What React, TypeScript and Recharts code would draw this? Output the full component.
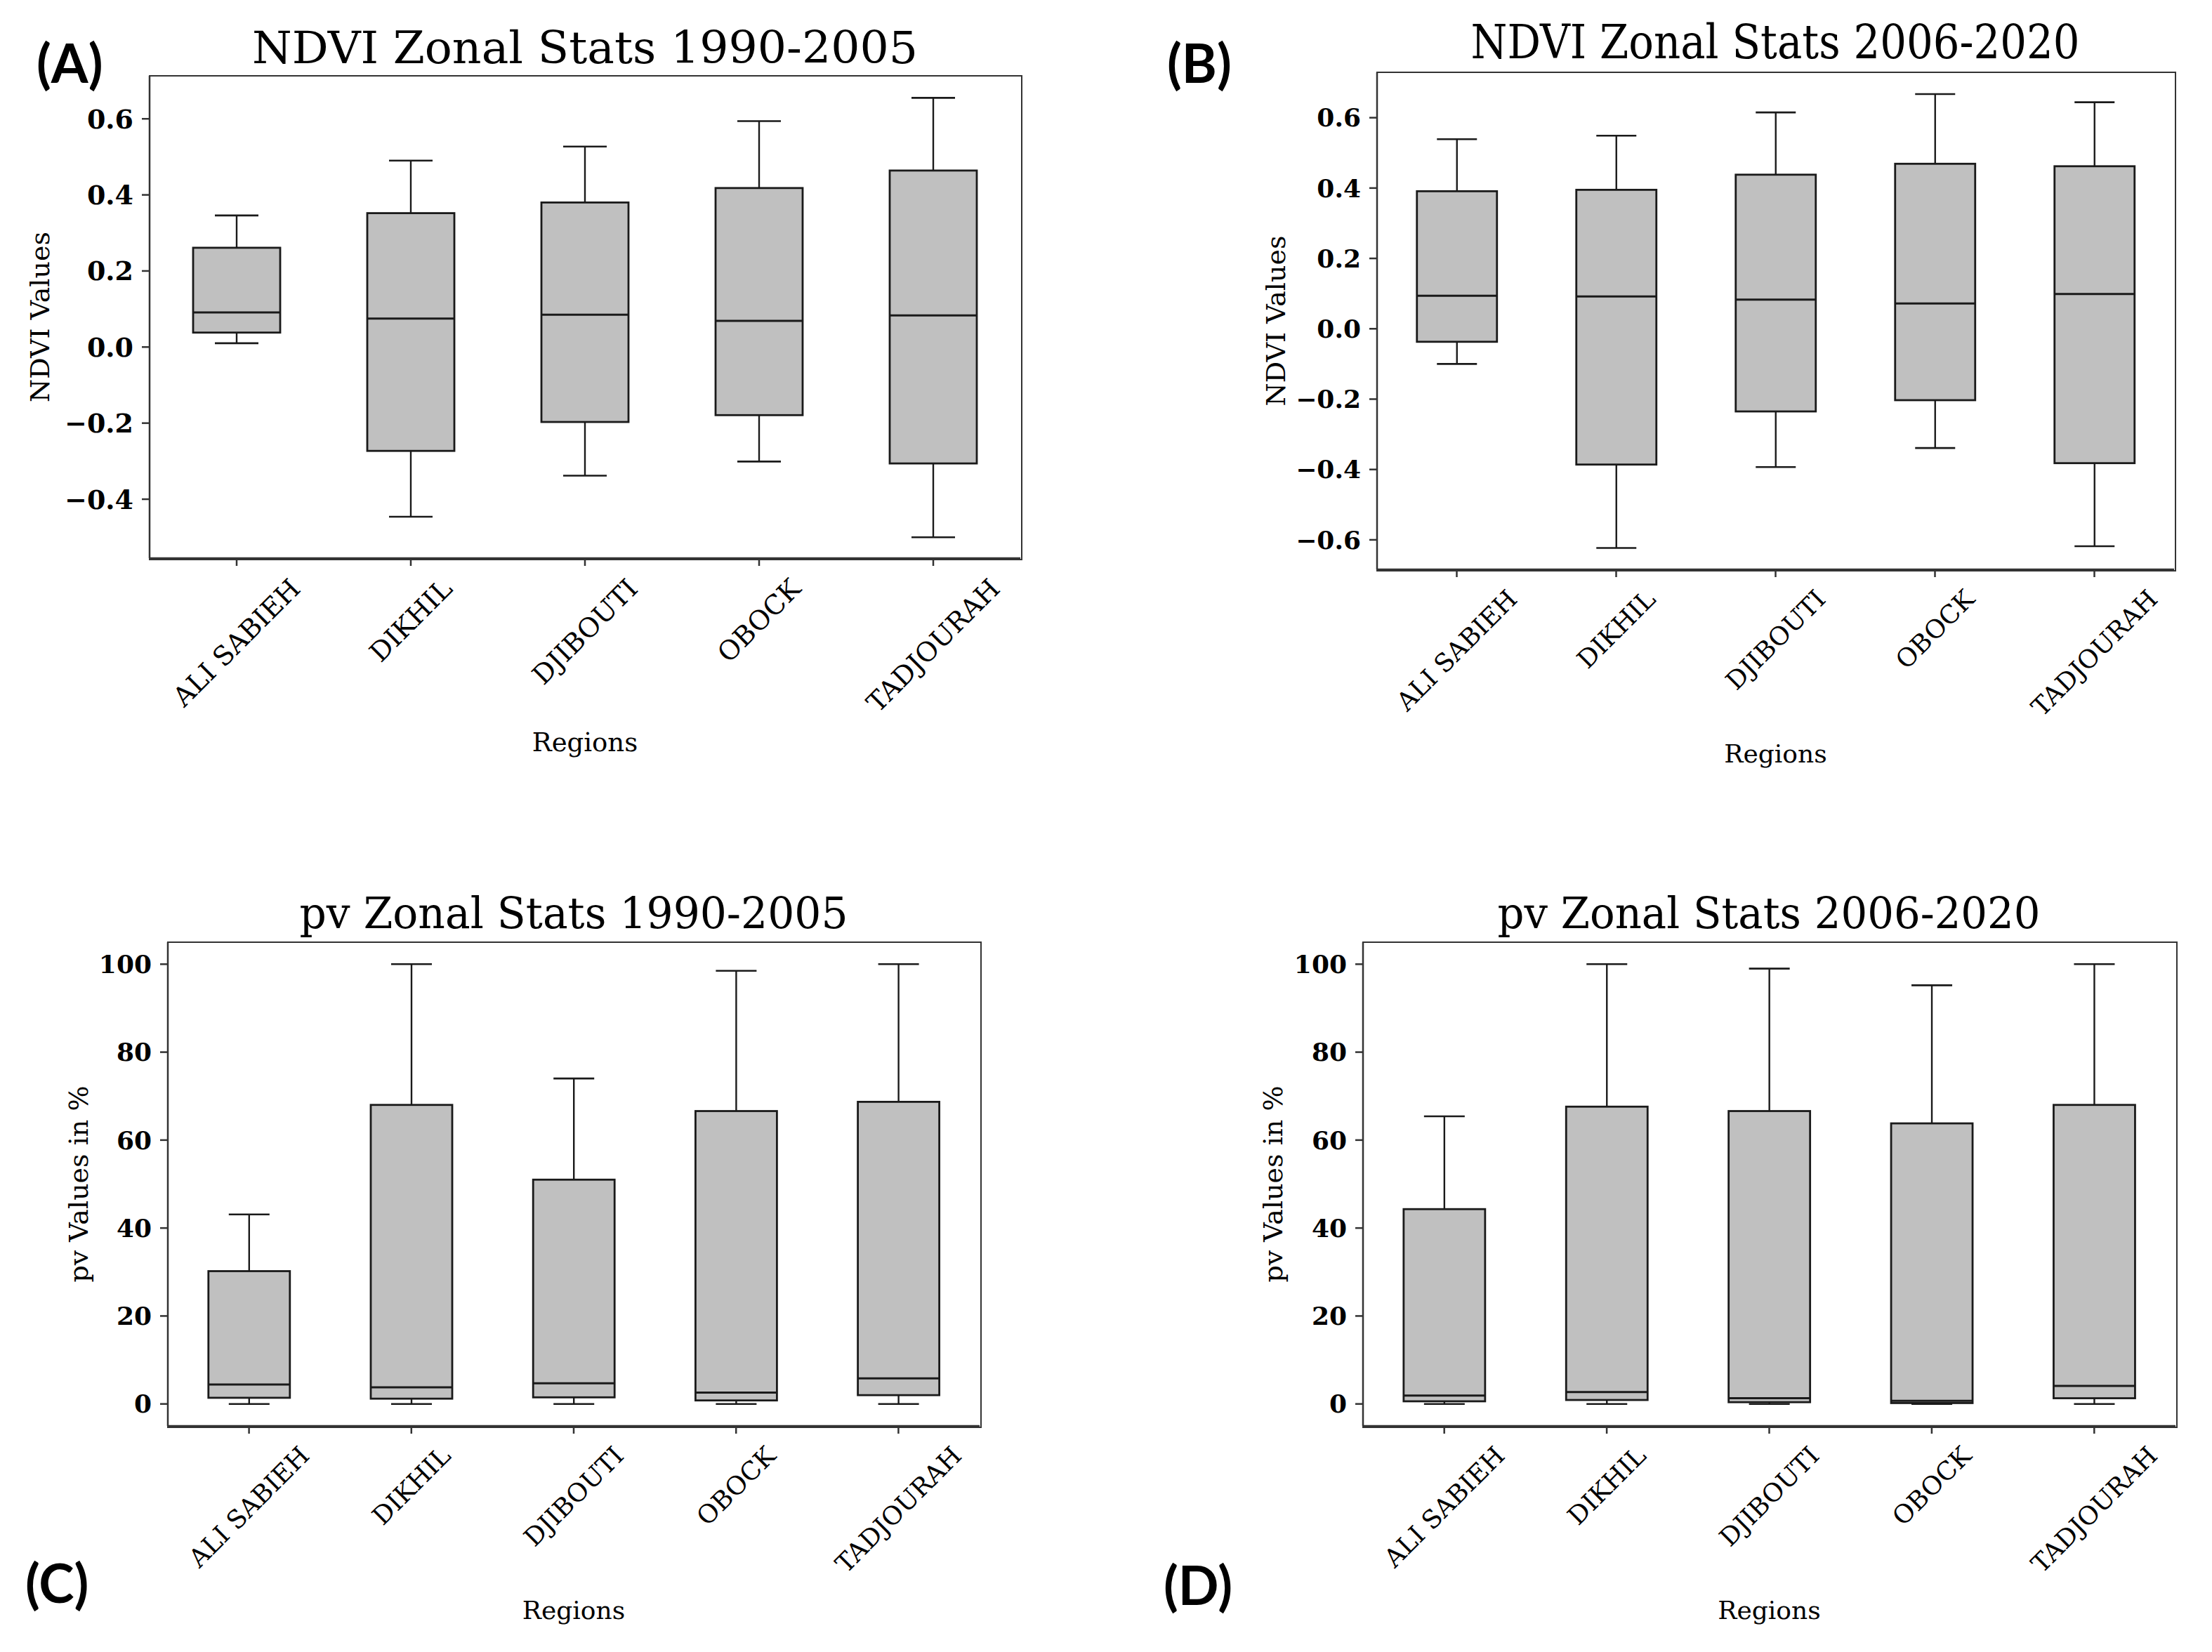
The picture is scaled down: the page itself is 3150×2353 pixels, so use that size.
import { ComposedChart, Bar, XAxis, YAxis, Label } from "recharts";

// regions on the x axis (same for all four panels)
const REGIONS = ["ALI SABIEH", "DIKHIL", "DJIBOUTI", "OBOCK", "TADJOURAH"];

// (A) NDVI 1990-2005
const ndviEarlyLow = [0.01, -0.446, -0.338, -0.301, -0.5];
const ndviEarlyQ1 = [0.038, -0.273, -0.197, -0.179, -0.306];
const ndviEarlyMedian = [0.091, 0.075, 0.085, 0.069, 0.083];
const ndviEarlyQ3 = [0.261, 0.352, 0.38, 0.418, 0.464];
const ndviEarlyHigh = [0.346, 0.49, 0.527, 0.594, 0.655];

// (B) NDVI 2006-2020
const ndviLateLow = [-0.1, -0.623, -0.393, -0.339, -0.618];
const ndviLateQ1 = [-0.037, -0.386, -0.235, -0.203, -0.382];
const ndviLateMedian = [0.094, 0.092, 0.083, 0.072, 0.099];
const ndviLateQ3 = [0.391, 0.395, 0.438, 0.469, 0.462];
const ndviLateHigh = [0.539, 0.549, 0.615, 0.667, 0.644];

// (C) pv 1990-2005
const pvEarlyLow = [0, 0, 0, 0, 0];
const pvEarlyQ1 = [1.4, 1.2, 1.5, 0.8, 2.0];
const pvEarlyMedian = [4.4, 3.8, 4.7, 2.6, 5.8];
const pvEarlyQ3 = [30.2, 68.0, 51.0, 66.6, 68.7];
const pvEarlyHigh = [43.1, 100, 74.0, 98.5, 100];

// (D) pv 2006-2020
const pvLateLow = [0, 0, 0, 0, 0];
const pvLateQ1 = [0.6, 0.9, 0.4, 0.2, 1.3];
const pvLateMedian = [1.9, 2.7, 1.3, 0.7, 4.1];
const pvLateQ3 = [44.3, 67.6, 66.6, 63.8, 68.0];
const pvLateHigh = [65.4, 100, 99.0, 95.2, 100];

const NDVI_TICKS_A = [-0.4, -0.2, 0, 0.2, 0.4, 0.6];
const NDVI_TICKS_B = [-0.6, -0.4, -0.2, 0, 0.2, 0.4, 0.6];
const PV_TICKS = [0, 20, 40, 60, 80, 100];

const SERIF = '"DejaVu Serif", serif';
const INK = "#1a1a1a";
const FRAME = "#333333";

type Row = { name: string; lo: number; q1: number; med: number; q3: number; hi: number };

function buildRows(lo: number[], q1: number[], med: number[], q3: number[], hi: number[]): Row[] {
  return REGIONS.map((name, i) => ({ name, lo: lo[i], q1: q1[i], med: med[i], q3: q3[i], hi: hi[i] }));
}

let canvasCtx: CanvasRenderingContext2D | null = null;
function textWidth(text: string, size: number) {
  if (!canvasCtx) canvasCtx = document.createElement("canvas").getContext("2d");
  if (!canvasCtx) return text.length * size * 0.65;
  canvasCtx.font = `${size}px "DejaVu Serif"`;
  return canvasCtx.measureText(text).width;
}

function fmtNdvi(v: number) {
  const s = Math.abs(v).toFixed(1);
  return v < -1e-9 ? "\u2212" + s : s;
}

// rotated tick label, centred under the tick like matplotlib's rotation=45
function XTick(props: any) {
  const { x, y, payload, fontSize } = props;
  const label = String(payload.value);
  const L = textWidth(label, fontSize);
  const h = 1.16 * fontSize;
  const cx = x;
  const cy = y + 10 + (L + h) / (2 * Math.SQRT2);
  return (
    <text
      x={cx}
      y={cy}
      textAnchor="middle"
      dominantBaseline="central"
      transform={`rotate(-45 ${cx} ${cy})`}
      fontFamily={SERIF}
      fontSize={fontSize}
      fill="#000"
    >
      {label}
    </text>
  );
}

function BoxShape(props: any) {
  const { x, y, width, height, payload } = props;
  if (!payload || width == null) return null;
  const { lo, q1, med, q3, hi } = payload as Row;
  const top = Math.min(y, y + height);
  const bot = Math.max(y, y + height);
  const toY = (v: number) => top + ((hi - v) / (hi - lo)) * (bot - top);
  const cx = x + width / 2;
  const cap = width / 4;
  const yq1 = toY(q1);
  const yq3 = toY(q3);
  return (
    <g>
      <line x1={cx} x2={cx} y1={toY(hi)} y2={yq3} stroke={INK} strokeWidth={2.4} />
      <line x1={cx} x2={cx} y1={yq1} y2={toY(lo)} stroke={INK} strokeWidth={2.4} />
      <line x1={cx - cap} x2={cx + cap} y1={toY(hi)} y2={toY(hi)} stroke={INK} strokeWidth={2.6} />
      <line x1={cx - cap} x2={cx + cap} y1={toY(lo)} y2={toY(lo)} stroke={INK} strokeWidth={2.6} />
      <rect x={x} y={yq3} width={width} height={Math.max(yq1 - yq3, 0.5)} fill="#c0c0c0" stroke={INK} strokeWidth={2.8} />
      <line x1={x} x2={x + width} y1={toY(med)} y2={toY(med)} stroke={INK} strokeWidth={3} />
    </g>
  );
}

type PanelProps = {
  rows: Row[];
  left: number;
  top: number;
  width: number;
  height: number;
  frameLeft: number;
  frameTop: number;
  frameRight: number;
  frameBottom: number;
  domain: [number, number];
  ticks: number[];
  format: (v: number) => string;
  yLabel: string;
  yLabelGap: number;
  tickFont: number;
  catFont: number;
  labelFont: number;
};

function BoxPanel(p: PanelProps) {
  const yAxisWidth = p.frameLeft - p.left;
  const xAxisHeight = p.top + p.height - p.frameBottom;
  const axisLine = { stroke: FRAME, strokeWidth: 2.5 };
  return (
    <>
      <div style={{ position: "absolute", left: p.left, top: p.top }}>
        <ComposedChart
          width={p.width}
          height={p.height}
          data={p.rows}
          margin={{ top: p.frameTop - p.top, right: p.left + p.width - p.frameRight, left: 0, bottom: 0 }}
          barCategoryGap="25%"
        >
          <XAxis
            dataKey="name"
            interval={0}
            height={xAxisHeight}
            tickSize={11}
            tickMargin={0}
            axisLine={axisLine}
            tickLine={{ stroke: FRAME, strokeWidth: 2.5 }}
            tick={(tp: any) => <XTick {...tp} fontSize={p.catFont} />}
          >
            <Label
              content={(lp: any) => {
                const vb = lp.viewBox || {};
                return (
                  <text
                    x={vb.x + vb.width / 2}
                    y={vb.y + 275}
                    textAnchor="middle"
                    fontFamily={SERIF}
                    fontSize={p.labelFont}
                    fill="#000"
                  >
                    Regions
                  </text>
                );
              }}
            />
          </XAxis>
          <YAxis
            type="number"
            domain={p.domain}
            ticks={p.ticks}
            interval={0}
            allowDataOverflow
            width={yAxisWidth}
            tickSize={11}
            tickMargin={12}
            axisLine={axisLine}
            tickLine={{ stroke: FRAME, strokeWidth: 2.5 }}
            tickFormatter={p.format}
            tick={{ fontFamily: SERIF, fontWeight: "bold", fontSize: p.tickFont, fill: "#000" }}
          >
            <Label
              content={(lp: any) => {
                const vb = lp.viewBox || {};
                const bx = vb.x + vb.width - p.yLabelGap;
                const cy = vb.y + vb.height / 2;
                return (
                  <text
                    transform={`translate(${bx},${cy}) rotate(-90)`}
                    textAnchor="middle"
                    fontFamily={SERIF}
                    fontSize={38}
                    fill="#000"
                  >
                    {p.yLabel}
                  </text>
                );
              }}
            />
          </YAxis>
          <Bar dataKey={(d: Row) => [d.lo, d.hi]} shape={<BoxShape />} isAnimationActive={false} />
        </ComposedChart>
      </div>
      {/* axes frame (top and right spines) */}
      <div
        style={{
          position: "absolute",
          left: p.frameLeft - 1.25,
          top: p.frameTop - 1.25,
          width: p.frameRight - p.frameLeft,
          height: p.frameBottom - p.frameTop,
          border: `2.5px solid ${FRAME}`,
          pointerEvents: "none",
        }}
      />
    </>
  );
}

export default function App() {
  const rowsA = buildRows(ndviEarlyLow, ndviEarlyQ1, ndviEarlyMedian, ndviEarlyQ3, ndviEarlyHigh);
  const rowsB = buildRows(ndviLateLow, ndviLateQ1, ndviLateMedian, ndviLateQ3, ndviLateHigh);
  const rowsC = buildRows(pvEarlyLow, pvEarlyQ1, pvEarlyMedian, pvEarlyQ3, pvEarlyHigh);
  const rowsD = buildRows(pvLateLow, pvLateQ1, pvLateMedian, pvLateQ3, pvLateHigh);

  const titleStyle = { fontFamily: SERIF, fill: "#000" };
  const letterStyle = { fontFamily: "Lato, 'Open Sans', sans-serif", fontWeight: 700, fontSize: 76, fill: "#000" };

  return (
    <div style={{ position: "absolute", left: 0, top: 0, width: 3150, height: 2353, background: "#fff" }}>
      <BoxPanel
        rows={rowsA}
        left={0} top={0} width={1500} height={1100}
        frameLeft={213} frameTop={108} frameRight={1453} frameBottom={795}
        domain={[-0.555, 0.713]} ticks={NDVI_TICKS_A} format={fmtNdvi}
        yLabel="NDVI Values" yLabelGap={143}
        tickFont={38} catFont={38} labelFont={37}
      />
      <BoxPanel
        rows={rowsB}
        left={1600} top={0} width={1550} height={1100}
        frameLeft={1961} frameTop={103} frameRight={3096} frameBottom={811}
        domain={[-0.684, 0.729]} ticks={NDVI_TICKS_B} format={fmtNdvi}
        yLabel="NDVI Values" yLabelGap={131}
        tickFont={36} catFont={36} labelFont={36}
      />
      <BoxPanel
        rows={rowsC}
        left={0} top={1200} width={1500} height={1153}
        frameLeft={239} frameTop={1342} frameRight={1395} frameBottom={2031}
        domain={[-5, 105]} ticks={PV_TICKS} format={(v) => String(v)}
        yLabel="pv Values in %" yLabelGap={114}
        tickFont={36} catFont={36} labelFont={36}
      />
      <BoxPanel
        rows={rowsD}
        left={1600} top={1200} width={1550} height={1153}
        frameLeft={1941} frameTop={1342} frameRight={3098} frameBottom={2031}
        domain={[-5, 105]} ticks={PV_TICKS} format={(v) => String(v)}
        yLabel="pv Values in %" yLabelGap={115}
        tickFont={36} catFont={36} labelFont={36}
      />
      <svg width={3150} height={2353} style={{ position: "absolute", left: 0, top: 0, pointerEvents: "none" }}>
        <text x={833} y={90} textAnchor="middle" fontSize={64} textLength={948} lengthAdjust="spacingAndGlyphs" {...titleStyle}>
          NDVI Zonal Stats 1990-2005
        </text>
        <text x={2528} y={83} textAnchor="middle" fontSize={67} textLength={867} lengthAdjust="spacingAndGlyphs" {...titleStyle}>
          NDVI Zonal Stats 2006-2020
        </text>
        <text x={817} y={1322} textAnchor="middle" fontSize={62} textLength={781} lengthAdjust="spacingAndGlyphs" {...titleStyle}>
          pv Zonal Stats 1990-2005
        </text>
        <text x={2519} y={1322} textAnchor="middle" fontSize={62} textLength={773} lengthAdjust="spacingAndGlyphs" {...titleStyle}>
          pv Zonal Stats 2006-2020
        </text>
        <text x={52} y={118} {...letterStyle}>(A)</text>
        <text x={1662} y={118} {...letterStyle}>(B)</text>
        <text x={36} y={2283} {...letterStyle}>(C)</text>
        <text x={1657} y={2286} {...letterStyle}>(D)</text>
      </svg>
    </div>
  );
}
